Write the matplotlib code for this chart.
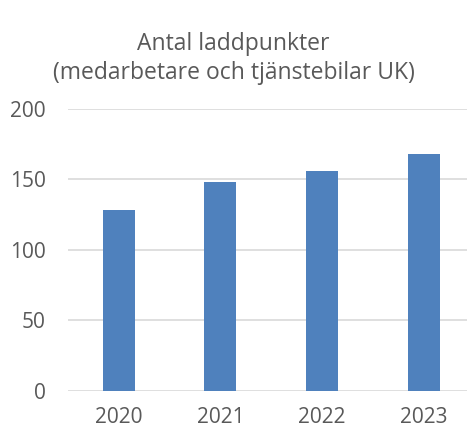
import matplotlib.pyplot as plt

# data
years = ['2020', '2021', '2022', '2023']
laddpunkter = [128, 148, 156, 168]
yticks = [0, 50, 100, 150, 200]

plt.rcParams['font.family'] = ['Open Sans', 'DejaVu Sans']
grey = '#595959'

fig = plt.figure(figsize=(4.67, 4.32), dpi=100)
ax = fig.add_axes([0.1456, 0.0956, 0.8544, 0.6524])

x = range(len(years))
ax.bar(x, laddpunkter, width=0.315, color='#4f81bd', zorder=3)

ax.set_xlim(-0.5, 3.427)
ax.set_ylim(0, 200)
ax.set_yticks(yticks)
ax.set_xticks(list(x))
ax.set_xticklabels(years)
ax.yaxis.grid(True, color='#d9d9d9', linewidth=1.2, zorder=0)
for s in ax.spines.values():
    s.set_visible(False)
ax.tick_params(length=0, labelsize=15, labelcolor=grey)
ax.tick_params(axis='y', pad=16)
ax.tick_params(axis='x', pad=12)

fig.text(0.5, 0.865, 'Antal laddpunkter\n(medarbetare och tjänstebilar UK)',
         ha='center', va='center', fontsize=16.5, color=grey, linespacing=1.3)

fig.savefig('out.png', dpi=100)
